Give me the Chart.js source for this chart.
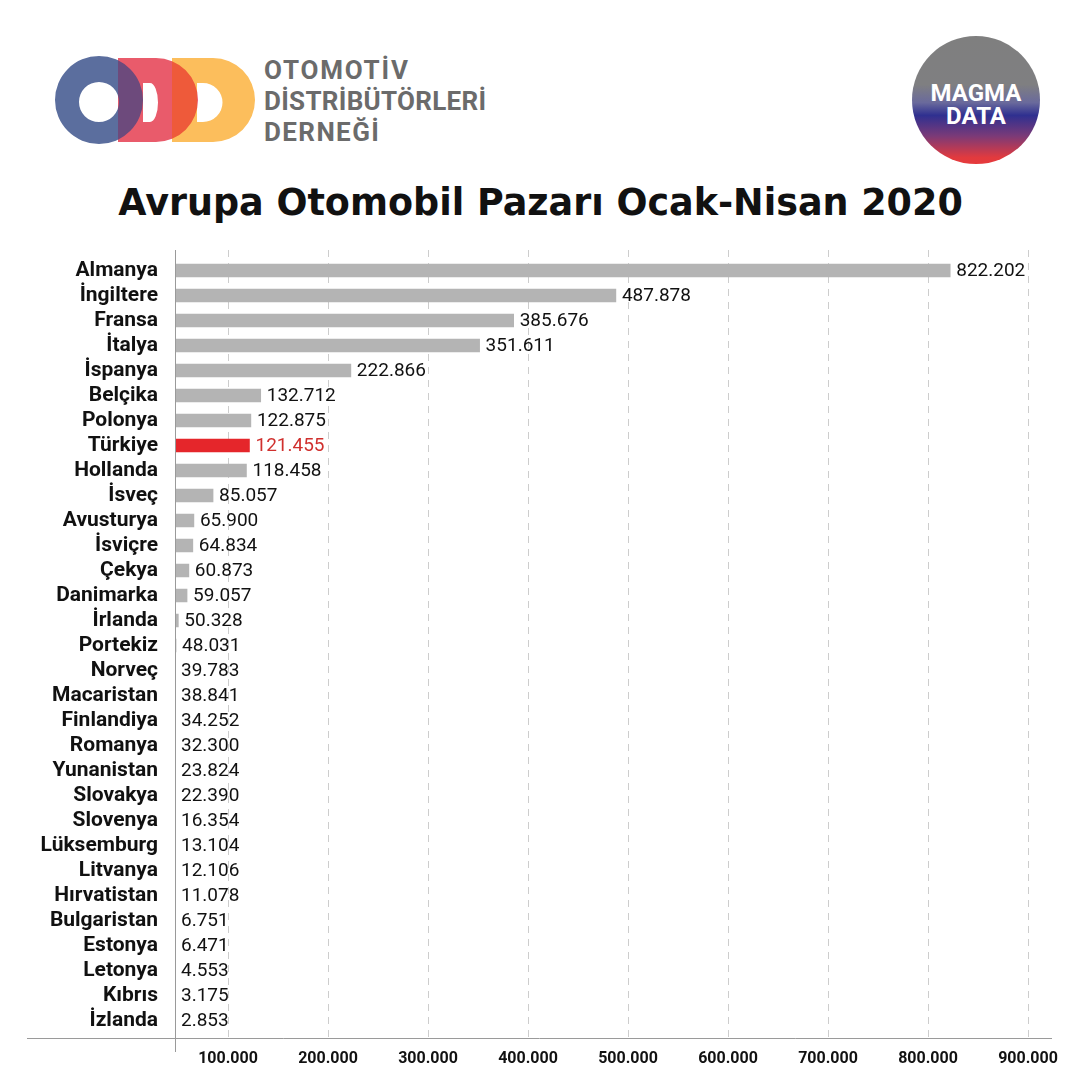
<!DOCTYPE html>
<html><head><meta charset="utf-8">
<script src="https://cdn.jsdelivr.net/npm/chart.js@4"></script>
<style>
html,body{margin:0;padding:0;background:#fff;}
body{width:1081px;height:1081px;position:relative;overflow:hidden;font-family:Roboto,sans-serif;}
#logo{position:absolute;left:0;top:0;}
.odd{position:absolute;left:264px;font-family:Roboto;font-weight:bold;font-size:26px;color:#6b6b6b;line-height:31px;white-space:nowrap;}
#title{position:absolute;left:0;width:1081px;top:182px;text-align:center;font-family:"DejaVu Sans";font-weight:bold;font-size:36.5px;line-height:42px;color:#111;white-space:nowrap;}
#magma{position:absolute;left:912px;top:36px;width:128px;height:128px;border-radius:50%;
 background:linear-gradient(to bottom,#7f7f7f 0%,#7f7f81 38%,#6a6a9c 52%,#2f3090 62%,#7a3a78 78%,#e23a3e 95%,#e63a3c 100%);}
.mg{position:absolute;left:912px;width:128px;text-align:center;color:#fff;font-family:Roboto;font-weight:bold;font-size:24px;line-height:24px;}
#wrap{position:absolute;left:0;top:240px;width:1081px;height:841px;}
</style></head>
<body>
<svg id="logo" width="300" height="170" viewBox="0 0 300 170">
 <defs>
  <path id="blueP" d="M55,100 a44,44 0 1,0 88,0 a44,44 0 1,0 -88,0 Z M79,102 a20,20 0 1,0 40,0 a20,20 0 1,0 -40,0 Z"/>
  <path id="redP" d="M118,58 H156 A42,42 0 0 1 156,142 H118 Z M143,83 H150 A8,19.5 0 0 1 150,122 H143 Z"/>
  <path id="oraP" d="M172,58 H213 A42,42 0 0 1 213,142 H172 Z M197,83 H203 A19.5,19.5 0 0 1 203,122 H197 Z"/>
  <clipPath id="clipRed"><use href="#redP" clip-rule="evenodd"/></clipPath>
  <clipPath id="clipOra"><use href="#oraP" clip-rule="evenodd"/></clipPath>
 </defs>
 <use href="#blueP" fill="#5b6e9e" fill-rule="evenodd"/>
 <use href="#redP" fill="#e95b6b" fill-rule="evenodd"/>
 <use href="#oraP" fill="#fcbe5c" fill-rule="evenodd"/>
 <g clip-path="url(#clipRed)"><use href="#blueP" fill="#6d4a7c" fill-rule="evenodd"/></g>
 <g clip-path="url(#clipOra)"><use href="#redP" fill="#ee5a3a" fill-rule="evenodd"/></g>
</svg>
<div class="odd" style="top:55px;letter-spacing:1.8px">OTOMOTİV</div>
<div class="odd" style="top:86px;letter-spacing:0.3px">DİSTRİBÜTÖRLERİ</div>
<div class="odd" style="top:117px;letter-spacing:1.4px">DERNEĞİ</div>
<div id="magma"></div>
<div class="mg" style="top:81px">MAGMA</div>
<div class="mg" style="top:104px">DATA</div>
<div id="title">Avrupa Otomobil Pazarı Ocak-Nisan 2020</div>
<div id="wrap"><canvas id="c" width="1081" height="841"></canvas></div>
<script>
const categories = ['Almanya','İngiltere','Fransa','İtalya','İspanya','Belçika','Polonya','Türkiye','Hollanda','İsveç','Avusturya','İsviçre','Çekya','Danimarka','İrlanda','Portekiz','Norveç','Macaristan','Finlandiya','Romanya','Yunanistan','Slovakya','Slovenya','Lüksemburg','Litvanya','Hırvatistan','Bulgaristan','Estonya','Letonya','Kıbrıs','İzlanda'];
const values = [822202,487878,385676,351611,222866,132712,122875,121455,118458,85057,65900,64834,60873,59057,50328,48031,39783,38841,34252,32300,23824,22390,16354,13104,12106,11078,6751,6471,4553,3175,2853];
const highlight = 'Türkiye';
const tickValues = [100000,200000,300000,400000,500000,600000,700000,800000,900000];
const tickLabels = ['100.000','200.000','300.000','400.000','500.000','600.000','700.000','800.000','900.000'];

const fmt = v => String(v).replace(/\B(?=(\d{3})+(?!\d))/g, '.');
const barColors = categories.map(c => c === highlight ? '#e5262b' : '#b4b4b4');

const deco = {
  id: 'deco',
  beforeDatasetsDraw(chart) {
    const {ctx, scales: {x}} = chart;
    ctx.save();
    ctx.strokeStyle = '#cdcdcd'; ctx.lineWidth = 1; ctx.setLineDash([7, 6]);
    tickValues.forEach(v => {
      const px = Math.round(x.getPixelForValue(v)) + 0.5;
      ctx.beginPath(); ctx.moveTo(px, 10); ctx.lineTo(px, 798); ctx.stroke();
    });
    ctx.restore();
  },
  afterDatasetsDraw(chart) {
    const {ctx, chartArea} = chart;
    ctx.save();
    ctx.strokeStyle = '#9a9a9a'; ctx.lineWidth = 1;
    const ax = Math.round(chartArea.left) + 0.5;
    ctx.beginPath(); ctx.moveTo(ax, 10); ctx.lineTo(ax, 812); ctx.stroke();
    ctx.beginPath(); ctx.moveTo(27, 798.5); ctx.lineTo(chartArea.right, 798.5); ctx.stroke();
    const meta = chart.getDatasetMeta(0);
    ctx.font = '19px Roboto';
    ctx.textBaseline = 'middle';
    ctx.textAlign = 'left';
    meta.data.forEach((el, i) => {
      ctx.fillStyle = categories[i] === highlight ? '#d0302e' : '#111';
      const px = Math.max(el.x, chartArea.left) + 6;
      ctx.fillText(fmt(values[i]), px, el.y + 1);
    });
    ctx.restore();
  }
};

function draw() {
  new Chart(document.getElementById('c'), {
    type: 'bar',
    data: {
      labels: categories,
      datasets: [{ data: values, backgroundColor: barColors, barThickness: 13, borderWidth: 0 }]
    },
    options: {
      indexAxis: 'y',
      responsive: false,
      animation: false,
      devicePixelRatio: 1,
      layout: { padding: { top: 18, right: 29, bottom: 0, left: 0 } },
      plugins: { legend: { display: false }, tooltip: { enabled: false } },
      scales: {
        x: {
          type: 'linear', min: 47000, max: 924000,
          afterBuildTicks: s => { s.ticks = tickValues.map(v => ({ value: v })); },
          afterFit: s => { s.height = 48; s.paddingLeft = 0; s.paddingRight = 0; },
          grid: { display: false, drawTicks: false },
          border: { display: false },
          ticks: {
            autoSkip: false, maxRotation: 0, padding: 16, color: '#111',
            font: { family: 'Roboto', weight: 'bold', size: 16 },
            callback: v => { const i = tickValues.indexOf(v); return i >= 0 ? tickLabels[i] : ''; }
          }
        },
        y: {
          type: 'category',
          afterFit: s => { s.width = 175; s.paddingTop = 0; s.paddingBottom = 0; },
          grid: { display: false, drawTicks: false },
          border: { display: false },
          ticks: { autoSkip: false, padding: 17, color: '#111', font: { family: 'Roboto', weight: 'bold', size: 21 } }
        }
      }
    },
    plugins: [deco]
  });
}
if (document.fonts && document.fonts.load) {
  Promise.all([document.fonts.load('bold 21px Roboto'), document.fonts.load('19px Roboto')]).then(draw, draw);
} else draw();
</script>
</body></html>
